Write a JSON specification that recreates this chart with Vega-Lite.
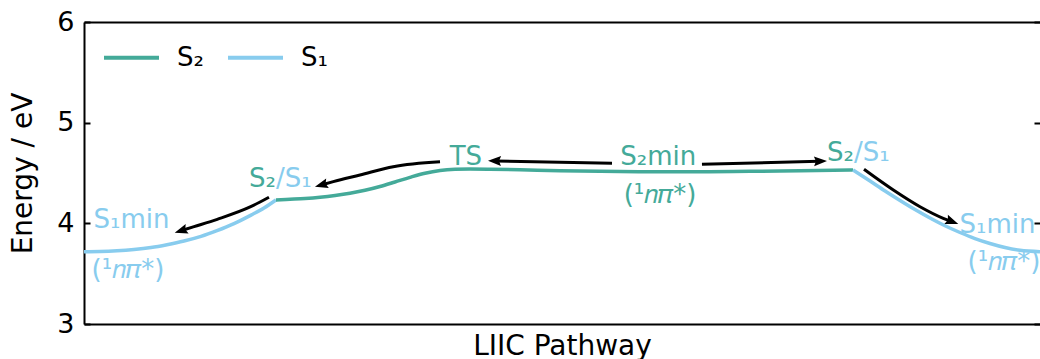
{
  "$schema": "https://vega.github.io/schema/vega-lite/v6.json",
  "width": 956,
  "height": 302,
  "autosize": {"type": "none"},
  "padding": {"left": 84, "top": 22, "right": 0, "bottom": 35},
  "background": "white",
  "config": {
    "view": {"stroke": null},
    "font": "DejaVu Sans",
    "axis": {"grid": false, "domainColor": "black", "tickColor": "black", "labelColor": "black", "titleColor": "black", "titleFontWeight": "normal", "labelFont": "DejaVu Sans", "titleFont": "DejaVu Sans"}
  },
  "datasets": {
    "curves": [
      {"x": 0.0, "e": 3.718, "state": "S₁", "seg": "a"},
      {"x": 0.167, "e": 3.72, "state": "S₁", "seg": "a"},
      {"x": 0.345, "e": 3.727, "state": "S₁", "seg": "a"},
      {"x": 0.523, "e": 3.74, "state": "S₁", "seg": "a"},
      {"x": 0.701, "e": 3.76, "state": "S₁", "seg": "a"},
      {"x": 0.868, "e": 3.788, "state": "S₁", "seg": "a"},
      {"x": 1.046, "e": 3.824, "state": "S₁", "seg": "a"},
      {"x": 1.224, "e": 3.87, "state": "S₁", "seg": "a"},
      {"x": 1.391, "e": 3.927, "state": "S₁", "seg": "a"},
      {"x": 1.569, "e": 3.997, "state": "S₁", "seg": "a"},
      {"x": 1.747, "e": 4.082, "state": "S₁", "seg": "a"},
      {"x": 1.883, "e": 4.152, "state": "S₁", "seg": "a"},
      {"x": 2.008, "e": 4.232, "state": "S₁", "seg": "a"},
      {"x": 2.008, "e": 4.232, "state": "S₂", "seg": "b"},
      {"x": 2.155, "e": 4.239, "state": "S₂", "seg": "b"},
      {"x": 2.312, "e": 4.247, "state": "S₂", "seg": "b"},
      {"x": 2.469, "e": 4.259, "state": "S₂", "seg": "b"},
      {"x": 2.626, "e": 4.276, "state": "S₂", "seg": "b"},
      {"x": 2.782, "e": 4.298, "state": "S₂", "seg": "b"},
      {"x": 2.939, "e": 4.328, "state": "S₂", "seg": "b"},
      {"x": 3.096, "e": 4.366, "state": "S₂", "seg": "b"},
      {"x": 3.253, "e": 4.411, "state": "S₂", "seg": "b"},
      {"x": 3.41, "e": 4.457, "state": "S₂", "seg": "b"},
      {"x": 3.567, "e": 4.498, "state": "S₂", "seg": "b"},
      {"x": 3.724, "e": 4.525, "state": "S₂", "seg": "b"},
      {"x": 3.881, "e": 4.537, "state": "S₂", "seg": "b"},
      {"x": 4.038, "e": 4.54, "state": "S₂", "seg": "b"},
      {"x": 4.247, "e": 4.538, "state": "S₂", "seg": "b"},
      {"x": 4.561, "e": 4.532, "state": "S₂", "seg": "b"},
      {"x": 4.979, "e": 4.523, "state": "S₂", "seg": "b"},
      {"x": 5.397, "e": 4.517, "state": "S₂", "seg": "b"},
      {"x": 5.921, "e": 4.513, "state": "S₂", "seg": "b"},
      {"x": 6.444, "e": 4.513, "state": "S₂", "seg": "b"},
      {"x": 6.967, "e": 4.517, "state": "S₂", "seg": "b"},
      {"x": 7.49, "e": 4.523, "state": "S₂", "seg": "b"},
      {"x": 8.044, "e": 4.53, "state": "S₂", "seg": "b"},
      {"x": 8.044, "e": 4.53, "state": "S₁", "seg": "c"},
      {"x": 8.222, "e": 4.42, "state": "S₁", "seg": "c"},
      {"x": 8.379, "e": 4.321, "state": "S₁", "seg": "c"},
      {"x": 8.536, "e": 4.227, "state": "S₁", "seg": "c"},
      {"x": 8.692, "e": 4.137, "state": "S₁", "seg": "c"},
      {"x": 8.849, "e": 4.053, "state": "S₁", "seg": "c"},
      {"x": 9.006, "e": 3.976, "state": "S₁", "seg": "c"},
      {"x": 9.163, "e": 3.909, "state": "S₁", "seg": "c"},
      {"x": 9.32, "e": 3.849, "state": "S₁", "seg": "c"},
      {"x": 9.477, "e": 3.8, "state": "S₁", "seg": "c"},
      {"x": 9.634, "e": 3.76, "state": "S₁", "seg": "c"},
      {"x": 9.791, "e": 3.732, "state": "S₁", "seg": "c"},
      {"x": 10.0, "e": 3.718, "state": "S₁", "seg": "c"}
    ],
    "arrows": [
      {"x": 5.523, "e": 4.596, "arrow": 1},
      {"x": 4.31, "e": 4.619, "arrow": 1},
      {"x": 6.464, "e": 4.586, "arrow": 2},
      {"x": 7.688, "e": 4.617, "arrow": 2},
      {"x": 3.724, "e": 4.612, "arrow": 3},
      {"x": 3.235, "e": 4.563, "arrow": 3},
      {"x": 2.887, "e": 4.48, "arrow": 3},
      {"x": 2.608, "e": 4.414, "arrow": 3},
      {"x": 2.5, "e": 4.386, "arrow": 3},
      {"x": 1.935, "e": 4.259, "arrow": 4},
      {"x": 1.744, "e": 4.165, "arrow": 4},
      {"x": 1.394, "e": 4.04, "arrow": 4},
      {"x": 1.151, "e": 3.967, "arrow": 4},
      {"x": 1.03, "e": 3.931, "arrow": 4},
      {"x": 8.159, "e": 4.537, "arrow": 5},
      {"x": 8.466, "e": 4.331, "arrow": 5},
      {"x": 8.745, "e": 4.165, "arrow": 5},
      {"x": 8.988, "e": 4.05, "arrow": 5},
      {"x": 9.069, "e": 4.021, "arrow": 5}
    ],
    "heads": [
      {"x": 4.226, "e": 4.622, "arrow": 1},
      {"x": 7.772, "e": 4.619, "arrow": 2},
      {"x": 2.416, "e": 4.364, "arrow": 3},
      {"x": 0.949, "e": 3.907, "arrow": 4},
      {"x": 9.145, "e": 3.993, "arrow": 5}
    ],
    "labels": [
      {"label": "TS", "x": 3.994, "e": 4.579, "style": "teal-center"},
      {"label": "S₂min", "x": 6.007, "e": 4.579, "style": "teal-center"},
      {"label": "(¹𝑛𝜋*)", "x": 6.025, "e": 4.199, "style": "teal-center"},
      {"label": "S₁min", "x": 0.497, "e": 3.951, "style": "blue-center"},
      {"label": "(¹𝑛𝜋*)", "x": 0.46, "e": 3.454, "style": "blue-center"},
      {"label": "S₁min", "x": 9.555, "e": 3.904, "style": "blue-center"},
      {"label": "(¹𝑛𝜋*)", "x": 9.623, "e": 3.536, "style": "blue-center"},
      {"label": "S₂", "x": 2.008, "e": 4.356, "style": "teal-right"},
      {"label": "S₂", "x": 8.054, "e": 4.624, "style": "teal-right"},
      {"label": "/S₁", "x": 2.008, "e": 4.356, "style": "blue-left"},
      {"label": "/S₁", "x": 8.054, "e": 4.624, "style": "blue-left"}
    ]
  },
  "layer": [
    {
      "data": {"name": "curves"},
      "mark": {"type": "line", "strokeWidth": 3.5, "interpolate": "monotone"},
      "encoding": {
        "x": {"field": "x", "type": "quantitative", "scale": {"domain": [0, 10], "nice": false},
          "axis": {"orient": "bottom", "title": "LIIC Pathway", "labels": false, "ticks": false, "domainWidth": 2, "titleFontSize": 28, "titlePadding": 8}},
        "y": {"field": "e", "type": "quantitative", "scale": {"domain": [3, 6], "nice": false, "zero": false},
          "axis": {"orient": "left", "title": "Energy / eV", "values": [3, 4, 5, 6], "tickSize": -6, "tickWidth": 2, "domainWidth": 2, "labelFontSize": 27, "labelPadding": 16, "titleFontSize": 28, "titlePadding": 19}},
        "color": {"field": "state", "type": "nominal",
          "scale": {"domain": ["S₂", "S₁"], "range": ["#44AA99", "#88CCEE"]},
          "legend": {"orient": "none", "legendX": 18, "legendY": 6, "direction": "horizontal", "title": null, "symbolType": "stroke", "symbolSize": 3025, "symbolStrokeWidth": 4, "labelFontSize": 26, "labelFont": "DejaVu Sans", "labelColor": "black", "labelOffset": 16, "columnPadding": 16, "padding": 0}},
        "detail": {"field": "seg"}
      }
    },
    {
      "data": {"name": "arrows"},
      "mark": {"type": "line", "strokeWidth": 3, "color": "black", "interpolate": "monotone"},
      "encoding": {
        "x": {"field": "x", "type": "quantitative", "scale": {"domain": [0, 10], "nice": false},
          "axis": {"orient": "top", "title": null, "labels": false, "ticks": false, "domainWidth": 2}},
        "y": {"field": "e", "type": "quantitative", "scale": {"domain": [3, 6], "nice": false, "zero": false},
          "axis": {"orient": "right", "title": null, "labels": false, "domain": false, "values": [3, 4, 5, 6], "tickSize": -6, "tickWidth": 2}},
        "detail": {"field": "arrow"}
      }
    },
    {
      "data": {"name": "heads"},
      "transform": [{"filter": "datum.arrow == 1"}],
      "mark": {"type": "point", "shape": "M0,0 L-1,-0.38 L-0.85,0 L-1,0.38 Z", "size": 676, "filled": true, "color": "black", "opacity": 1, "angle": 181.2},
      "encoding": {"x": {"field": "x", "type": "quantitative", "axis": null}, "y": {"field": "e", "type": "quantitative", "axis": null}}
    },
    {
      "data": {"name": "heads"},
      "transform": [{"filter": "datum.arrow == 2"}],
      "mark": {"type": "point", "shape": "M0,0 L-1,-0.38 L-0.85,0 L-1,0.38 Z", "size": 676, "filled": true, "color": "black", "opacity": 1, "angle": -1.5},
      "encoding": {"x": {"field": "x", "type": "quantitative", "axis": null}, "y": {"field": "e", "type": "quantitative", "axis": null}}
    },
    {
      "data": {"name": "heads"},
      "transform": [{"filter": "datum.arrow == 3"}],
      "mark": {"type": "point", "shape": "M0,0 L-1,-0.38 L-0.85,0 L-1,0.38 Z", "size": 676, "filled": true, "color": "black", "opacity": 1, "angle": 164.5},
      "encoding": {"x": {"field": "x", "type": "quantitative", "axis": null}, "y": {"field": "e", "type": "quantitative", "axis": null}}
    },
    {
      "data": {"name": "heads"},
      "transform": [{"filter": "datum.arrow == 4"}],
      "mark": {"type": "point", "shape": "M0,0 L-1,-0.38 L-0.85,0 L-1,0.38 Z", "size": 676, "filled": true, "color": "black", "opacity": 1, "angle": 162.7},
      "encoding": {"x": {"field": "x", "type": "quantitative", "axis": null}, "y": {"field": "e", "type": "quantitative", "axis": null}}
    },
    {
      "data": {"name": "heads"},
      "transform": [{"filter": "datum.arrow == 5"}],
      "mark": {"type": "point", "shape": "M0,0 L-1,-0.38 L-0.85,0 L-1,0.38 Z", "size": 676, "filled": true, "color": "black", "opacity": 1, "angle": 20.8},
      "encoding": {"x": {"field": "x", "type": "quantitative", "axis": null}, "y": {"field": "e", "type": "quantitative", "axis": null}}
    },
    {
      "data": {"name": "labels"},
      "transform": [{"filter": "datum.style == 'teal-center'"}],
      "mark": {"type": "text", "font": "DejaVu Sans", "fontSize": 26, "align": "center", "baseline": "alphabetic", "color": "#44AA99"},
      "encoding": {"x": {"field": "x", "type": "quantitative", "axis": null}, "y": {"field": "e", "type": "quantitative", "axis": null}, "text": {"field": "label"}}
    },
    {
      "data": {"name": "labels"},
      "transform": [{"filter": "datum.style == 'blue-center'"}],
      "mark": {"type": "text", "font": "DejaVu Sans", "fontSize": 26, "align": "center", "baseline": "alphabetic", "color": "#88CCEE"},
      "encoding": {"x": {"field": "x", "type": "quantitative", "axis": null}, "y": {"field": "e", "type": "quantitative", "axis": null}, "text": {"field": "label"}}
    },
    {
      "data": {"name": "labels"},
      "transform": [{"filter": "datum.style == 'teal-right'"}],
      "mark": {"type": "text", "font": "DejaVu Sans", "fontSize": 26, "align": "right", "baseline": "alphabetic", "color": "#44AA99"},
      "encoding": {"x": {"field": "x", "type": "quantitative", "axis": null}, "y": {"field": "e", "type": "quantitative", "axis": null}, "text": {"field": "label"}}
    },
    {
      "data": {"name": "labels"},
      "transform": [{"filter": "datum.style == 'blue-left'"}],
      "mark": {"type": "text", "font": "DejaVu Sans", "fontSize": 26, "align": "left", "baseline": "alphabetic", "color": "#88CCEE"},
      "encoding": {"x": {"field": "x", "type": "quantitative", "axis": null}, "y": {"field": "e", "type": "quantitative", "axis": null}, "text": {"field": "label"}}
    }
  ],
  "resolve": {"axis": {"x": "independent", "y": "independent"}}
}
